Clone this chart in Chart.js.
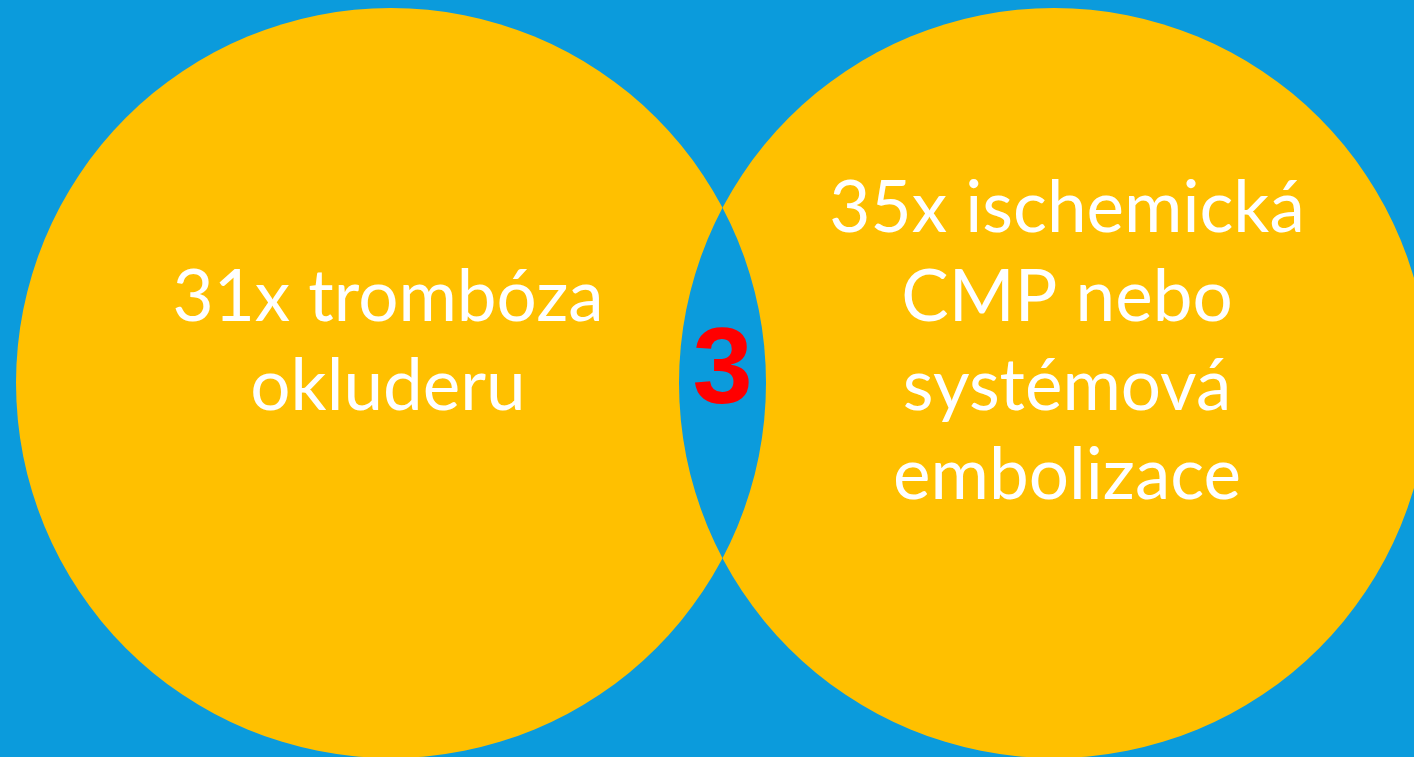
<!DOCTYPE html>
<html>
<head>
<meta charset="utf-8">
<script src="https://cdn.jsdelivr.net/npm/chart.js@4"></script>
<style>
  html, body { margin: 0; padding: 0; background: #0B9BDC; overflow: hidden; }
  #wrap { width: 1414px; height: 757px; }
</style>
</head>
<body>
<div id="wrap"><canvas id="venn"></canvas></div>
<script>
// two sets of the Venn diagram (unit = circle radius)
const setLabels = [
    ['31x trombóza', 'okluderu'],
    ['35x ischemická', 'CMP nebo', 'systémová', 'embolizace']
];
const setCounts = [31, 35];
const setCenterX = [-0.884, 0.884];
const setCenterY = [0, 0];
const setRadius = [1, 1];
const overlapCount = 3;

const xorPlugin = {
    id: 'xorCircles',
    beforeDatasetsDraw(chart) {
        chart.ctx.save();
        chart.ctx.globalCompositeOperation = 'xor';
    },
    afterDatasetsDraw(chart) {
        chart.ctx.restore();
    }
};

const textPlugin = {
    id: 'vennText',
    afterDraw(chart) {
        const ctx = chart.ctx;
        const xs = chart.scales.x, ys = chart.scales.y;
        const lineH = 89;
        ctx.save();
        ctx.fillStyle = '#FFFFFF';
        ctx.font = '71px Lato, "Open Sans", sans-serif';
        ctx.textAlign = 'center';
        ctx.textBaseline = 'alphabetic';
        setLabels.forEach(function(lines, i) {
            const cx = xs.getPixelForValue(setCenterX[i]) + (i === 0 ? -3 : 13);
            const cy = ys.getPixelForValue(setCenterY[i]) - 18;
            lines.forEach(function(line, j) {
                ctx.fillText(line, cx, cy + (j - (lines.length - 1) / 2) * lineH);
            });
        });
        // overlap count in the middle of the lens
        const mx = xs.getPixelForValue((setCenterX[0] + setCenterX[1]) / 2);
        const my = ys.getPixelForValue(0);
        ctx.fillStyle = '#FF0000';
        ctx.font = 'bold 108px "Liberation Sans", Arial, sans-serif';
        ctx.fillText(String(overlapCount), mx, my + 20);
        ctx.restore();
    }
};

function circleRadius(context) {
    const xs = context.chart.scales.x;
    const raw = context.raw;
    if (!xs || !raw) return 0;
    return Math.abs(xs.getPixelForValue(raw.size) - xs.getPixelForValue(0));
}

new Chart(document.getElementById('venn'), {
    type: 'scatter',
    data: {
        datasets: [{
            label: 'Venn',
            data: setCounts.map(function(v, i) {
                return { x: setCenterX[i], y: setCenterY[i], size: setRadius[i], count: v };
            }),
            pointBackgroundColor: '#FFC000',
            pointBorderWidth: 0,
            pointHoverBorderWidth: 0,
            pointRadius: circleRadius,
            pointHoverRadius: circleRadius,
            clip: false
        }]
    },
    options: {
        responsive: true,
        maintainAspectRatio: false,
        animation: false,
        events: [],
        layout: { padding: 0 },
        plugins: {
            legend: { display: false },
            tooltip: { enabled: false }
        },
        scales: {
            x: { type: 'linear', display: false, min: -1.9267, max: 1.844 },
            y: { type: 'linear', display: false, min: -0.9973, max: 1.0213 }
        }
    },
    plugins: [xorPlugin, textPlugin]
});
</script>
</body>
</html>
